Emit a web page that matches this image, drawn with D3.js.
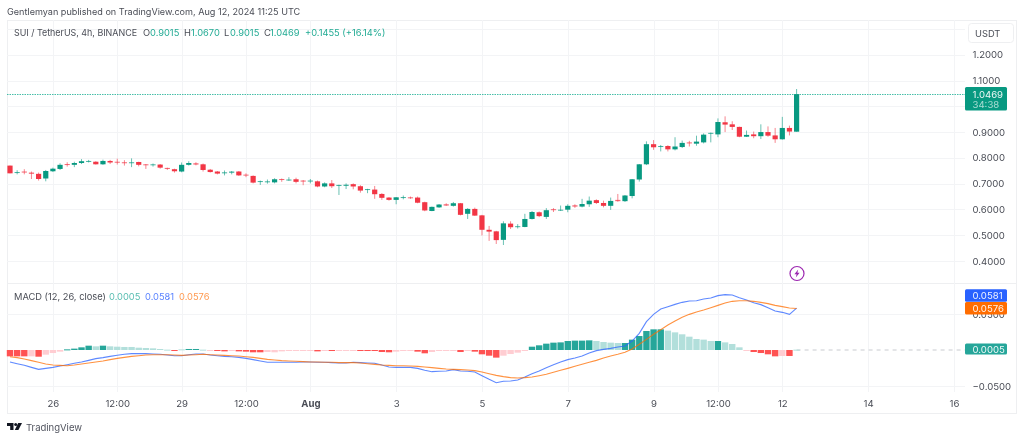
<!DOCTYPE html>
<html><head><meta charset="utf-8">
<script src="https://cdn.jsdelivr.net/npm/d3@7/dist/d3.min.js"></script>
<style>
html,body{margin:0;padding:0;background:#fff;overflow:hidden}
svg{display:block;font-family:Inter,"Liberation Sans",sans-serif;filter:blur(.35px)}
text{font-family:Inter,"Liberation Sans",sans-serif}
</style></head><body><div id="c"></div>
<script>
const opens=[.770,.743,.747,.743,.738,.720,.748,.757,.776,.773,.780,.785,.785,.775,.788,.785,.783,.780,.784,.775,.773,.774,.761,.756,.747,.773,.779,.775,.754,.747,.740,.742,.747,.735,.730,.708,.707,.705,.718,.712,.717,.712,.709,.709,.689,.701,.691,.691,.698,.690,.676,.677,.660,.646,.637,.645,.647,.646,.628,.594,.608,.620,.614,.624,.583,.602,.577,.521,.515,.482,.545,.532,.532,.563,.589,.571,.601,.597,.599,.616,.611,.620,.636,.625,.614,.637,.632,.652,.716,.775,.853,.842,.846,.833,.842,.860,.855,.860,.894,.891,.938,.930,.920,.882,.891,.884,.900,.887,.872,.916,.9015];
const highs=[.770,.752,.756,.747,.743,.753,.762,.779,.783,.785,.795,.792,.787,.793,.792,.797,.791,.798,.785,.776,.778,.776,.762,.758,.782,.787,.783,.778,.757,.749,.751,.749,.749,.740,.732,.712,.716,.721,.720,.725,.723,.714,.718,.712,.705,.714,.696,.701,.701,.694,.680,.691,.663,.648,.648,.654,.650,.650,.630,.611,.621,.624,.629,.625,.605,.607,.579,.536,.517,.554,.554,.543,.583,.594,.592,.605,.605,.615,.620,.620,.641,.650,.639,.634,.646,.660,.656,.718,.776,.864,.869,.850,.849,.880,.867,.866,.886,.895,.898,.953,.961,.942,.921,.906,.902,.930,.922,.916,.959,.925,1.0670];
const lows=[.740,.736,.736,.718,.712,.709,.745,.753,.766,.764,.776,.782,.774,.773,.776,.774,.770,.764,.767,.757,.766,.758,.753,.743,.744,.770,.771,.747,.743,.736,.732,.736,.730,.725,.701,.695,.700,.701,.707,.711,.701,.694,.701,.686,.686,.683,.656,.679,.678,.665,.663,.641,.637,.634,.620,.639,.641,.624,.593,.593,.606,.614,.611,.577,.563,.575,.499,.478,.466,.462,.524,.526,.531,.561,.570,.563,.590,.594,.589,.606,.608,.610,.621,.608,.598,.630,.629,.643,.708,.772,.831,.825,.825,.829,.838,.844,.847,.856,.860,.880,.900,.908,.880,.881,.876,.873,.882,.858,.871,.887,.9015];
const closes=[.740,.745,.743,.738,.718,.749,.758,.773,.773,.780,.787,.788,.775,.788,.782,.783,.780,.783,.773,.773,.775,.762,.757,.748,.773,.780,.774,.753,.745,.739,.744,.747,.732,.732,.704,.710,.709,.717,.714,.716,.707,.708,.712,.689,.701,.690,.695,.696,.689,.673,.679,.659,.645,.637,.647,.648,.645,.626,.596,.610,.619,.615,.624,.579,.602,.576,.521,.514,.481,.546,.531,.535,.563,.590,.574,.597,.597,.599,.614,.611,.621,.634,.625,.614,.633,.632,.654,.717,.775,.853,.841,.846,.833,.844,.858,.856,.863,.890,.897,.939,.929,.920,.882,.889,.884,.900,.886,.872,.916,.902,1.0469];
const hist=[-.0088,-.0088,-.0088,-.0088,-.0093,-.0065,-.0042,-.0023,.0009,.0019,.0037,.0060,.0051,.0060,.0051,.0046,.0042,.0042,.0032,.0028,.0023,.0014,.0005,-.0014,.0009,.0014,.0014,.0005,-.0009,-.0014,-.0019,-.0009,-.0019,-.0023,-.0032,-.0032,-.0028,-.0032,-.0019,-.0014,-.0014,-.0009,-.0005,-.0019,-.0005,-.0014,-.0005,-.0005,-.0005,-.0014,-.0014,-.0014,-.0028,-.0032,-.0023,-.0014,-.0009,-.0023,-.0046,-.0028,-.0014,-.0014,-.0005,-.0028,-.0009,-.0023,-.0060,-.0079,-.0106,-.0079,-.0056,-.0037,-.0009,.0046,.0065,.0088,.0102,.0106,.0125,.0130,.0130,.0134,.0125,.0111,.0102,.0097,.0097,.0144,.0194,.0264,.0287,.0287,.0269,.0245,.0218,.0185,.0153,.0144,.0125,.0125,.0106,.0083,.0037,-.0014,-.0028,-.0042,-.0060,-.0088,-.0083,-.0083,.0005];
const histStrong=[1,1,1,0,1,0,0,0,1,1,1,1,0,1,0,0,0,0,0,0,0,0,0,1,0,1,1,0,0,1,1,0,1,1,1,1,0,0,0,0,0,0,0,1,0,1,0,0,0,1,1,1,1,1,0,0,0,1,1,0,0,0,0,1,0,1,1,1,1,0,0,0,0,1,1,1,1,1,1,1,1,1,0,0,0,0,1,1,1,1,1,1,0,0,0,0,0,0,0,1,0,0,0,0,1,1,1,1,0,1,0];
const macd=[-.0167,-.0190,-.0213,-.0241,-.0269,-.0255,-.0241,-.0222,-.0204,-.0185,-.0167,-.0144,-.0120,-.0106,-.0088,-.0074,-.0060,-.0051,-.0051,-.0051,-.0056,-.0060,-.0069,-.0079,-.0079,-.0065,-.0056,-.0056,-.0069,-.0079,-.0088,-.0093,-.0102,-.0116,-.0134,-.0153,-.0171,-.0171,-.0171,-.0171,-.0171,-.0167,-.0167,-.0171,-.0171,-.0176,-.0181,-.0181,-.0171,-.0176,-.0181,-.0185,-.0208,-.0236,-.0241,-.0241,-.0241,-.0255,-.0282,-.0301,-.0296,-.0292,-.0273,-.0292,-.0296,-.0306,-.0357,-.0407,-.0454,-.0435,-.0431,-.0417,-.0375,-.0329,-.0292,-.0245,-.0204,-.0167,-.0134,-.0111,-.0083,-.0042,-.0009,.0009,.0023,.0042,.0056,.0125,.0232,.0394,.0495,.0569,.0602,.0634,.0662,.0681,.0685,.0708,.0722,.0755,.0769,.0764,.0727,.0695,.0657,.0630,.0588,.0542,.0523,.0495,.0581];
const signal=[-.0093,-.0106,-.0125,-.0148,-.0171,-.0194,-.0208,-.0213,-.0218,-.0208,-.0194,-.0181,-.0167,-.0153,-.0134,-.0116,-.0102,-.0088,-.0079,-.0069,-.0065,-.0065,-.0065,-.0069,-.0074,-.0069,-.0065,-.0060,-.0065,-.0069,-.0074,-.0079,-.0083,-.0093,-.0102,-.0116,-.0130,-.0139,-.0148,-.0153,-.0157,-.0162,-.0167,-.0167,-.0171,-.0171,-.0176,-.0176,-.0176,-.0181,-.0190,-.0199,-.0208,-.0213,-.0218,-.0218,-.0222,-.0227,-.0236,-.0245,-.0255,-.0264,-.0269,-.0273,-.0278,-.0287,-.0306,-.0329,-.0352,-.0370,-.0384,-.0389,-.0384,-.0375,-.0357,-.0338,-.0310,-.0282,-.0255,-.0227,-.0199,-.0171,-.0144,-.0111,-.0083,-.0060,-.0032,.0014,.0079,.0148,.0218,.0282,.0347,.0403,.0454,.0495,.0528,.0556,.0588,.0620,.0653,.0676,.0685,.0685,.0676,.0662,.0644,.0620,.0602,.0583,.0576];
const priceTicks=[1.3,1.2,1.1,1.0,.9,.8,.7,.6,.5,.4];
const macdTicks=[.05,-.05];
const timeTickIdx=[6,15,24,33,42,54,66,78,90,99,108,120,132];
const timeTickLabels=["26","12:00","29","12:00","Aug","3","5","7","9","12:00","12","14","16"];
const lastPrice=1.0469, lastHist=.0005, lastMacd=.0581, lastSignal=.0576;

const W=1024,H=440,UP="#089981",DN="#f23645",GRID="#f3f4f6",TXT="#4a4d56",TEAL="#26a69a";
const FS=9.6;
const svg=d3.select("#c").append("svg").attr("width",W).attr("height",H);
const L=7,R=1016,T=20,B=413,PR=965,PB=392;
const x=d3.scaleLinear().domain([0,110]).range([10,796.6]);
const y=d3.scaleLinear().domain([1.1,.4]).range([80.5,261]);
const ym=d3.scaleLinear().domain([.05,-.05]).range([314,386]);

// frame
svg.append("rect").attr("x",L+.5).attr("y",T+.5).attr("width",R-L).attr("height",B-T).attr("fill","none").attr("stroke","#eeeff1");
svg.append("line").attr("x1",L).attr("x2",R).attr("y1",283.5).attr("y2",283.5).attr("stroke","#eeeff1");

// time axis + vertical grid
const tAxis=d3.axisBottom(x).tickValues(timeTickIdx).tickFormat((d,i)=>timeTickLabels[i]).tickSize(0).tickPadding(0);
const tg=svg.append("g").attr("transform",`translate(0,407)`).call(tAxis);
tg.select(".domain").remove();
tg.selectAll("text").attr("y",0).attr("font-size",FS).attr("fill",TXT).attr("font-weight",(d,i)=>timeTickLabels[i]==="Aug"?700:400).attr("dy",0);
svg.append("g").selectAll("line").data(timeTickIdx).join("line")
 .attr("x1",d=>Math.round(x(d))+.5).attr("x2",d=>Math.round(x(d))+.5).attr("y1",T).attr("y2",PB).attr("stroke",GRID);

// price axis + grid
svg.append("g").selectAll("line").data(priceTicks).join("line")
 .attr("x1",L).attr("x2",PR).attr("y1",d=>Math.round(y(d))+.5).attr("y2",d=>Math.round(y(d))+.5).attr("stroke",GRID);
svg.append("g").selectAll("line").data(macdTicks).join("line")
 .attr("x1",L).attr("x2",PR).attr("y1",d=>Math.round(ym(d))+.5).attr("y2",d=>Math.round(ym(d))+.5).attr("stroke",GRID);
const pg=svg.append("g").attr("transform","translate(972.5,0)").call(d3.axisRight(y).tickValues(priceTicks.filter(d=>d<1.25&&d!==1.0)).tickFormat(d3.format(".4f")).tickSize(0).tickPadding(0));
pg.select(".domain").remove();
pg.selectAll("text").attr("font-size",FS).attr("fill",TXT);
const mg=svg.append("g").attr("transform","translate(972.5,0)").call(d3.axisRight(ym).tickValues(macdTicks).tickFormat(d3.format(".4f")).tickSize(0).tickPadding(0));
mg.select(".domain").remove();
mg.selectAll("text").attr("font-size",FS).attr("fill",TXT);

// last price line
const lpY=Math.round(y(lastPrice))+.5;
svg.append("line").attr("x1",L).attr("x2",PR).attr("y1",lpY).attr("y2",lpY).attr("stroke","#0aa88d").attr("stroke-width",1).attr("stroke-dasharray","1.5 1").attr("opacity",.75);

// candles
const idx=d3.range(opens.length);
const cg=svg.append("g");
cg.selectAll(".w").data(idx).join("line").attr("class","w")
 .attr("x1",i=>x(i)).attr("x2",i=>x(i)).attr("y1",i=>y(highs[i])).attr("y2",i=>y(lows[i]))
 .attr("stroke",i=>closes[i]>=opens[i]?UP:DN).attr("stroke-width",1).attr("opacity",.6);
cg.selectAll(".b").data(idx).join("rect").attr("class","b")
 .attr("x",i=>x(i)-2.6).attr("width",5.2)
 .attr("y",i=>y(Math.max(opens[i],closes[i])))
 .attr("height",i=>Math.max(1,Math.abs(y(opens[i])-y(closes[i]))))
 .attr("fill",i=>closes[i]>=opens[i]?UP:DN)
 .attr("opacity",i=>Math.abs(y(opens[i])-y(closes[i]))<1.5?.75:1);

// MACD histogram
const zeroY=ym(0);
svg.append("line").attr("x1",x(110)).attr("x2",PR).attr("y1",zeroY).attr("y2",zeroY).attr("stroke","#c9cbd0").attr("stroke-dasharray","4 4");
svg.append("g").selectAll("rect").data(idx).join("rect")
 .attr("x",i=>x(i)-3.2).attr("width",6.4)
 .attr("y",i=>hist[i]>=0?ym(hist[i]):zeroY)
 .attr("height",i=>Math.max(1,Math.abs(ym(hist[i])-zeroY)))
 .attr("fill",i=>hist[i]>=0?(histStrong[i]?TEAL:"#b2dfdb"):(histStrong[i]?"#ff5252":"#ffcdd2"));
const ln=d3.line().x((d,i)=>x(i)).y(d=>ym(d));
svg.append("path").attr("d",ln(macd)).attr("fill","none").attr("stroke","#2962ff").attr("stroke-opacity",.75).attr("stroke-width",1.1);
svg.append("path").attr("d",ln(signal)).attr("fill","none").attr("stroke","#ff6d00").attr("stroke-opacity",.75).attr("stroke-width",1.1);

// header
svg.append("text").attr("x",7).attr("y",14.5).attr("font-size",9.1).attr("fill",TXT).text("Gentlemyan published on TradingView.com, Aug 12, 2024 11:25 UTC");
const leg=(px,py,s,c)=>svg.append("text").attr("x",px).attr("y",py).attr("font-size",9.3).attr("fill",c).text(s);
const G="#22ab94";
leg(14,35.5,"SUI / TetherUS, 4h, BINANCE",TXT).attr("textLength",123).attr("lengthAdjust","spacingAndGlyphs");
const fmt=d3.format(".4f"),n=opens.length-1;
leg(143,35.5,"O",TXT);leg(150,35.5,fmt(opens[n]),G);
leg(184,35.5,"H",TXT);leg(191,35.5,fmt(highs[n]),G);
leg(224,35.5,"L",TXT);leg(230,35.5,fmt(lows[n]),G);
leg(264,35.5,"C",TXT);leg(270,35.5,fmt(closes[n]),G);
leg(305,35.5,"+0.1455 (+16.14%)",G);
leg(14,299.5,"MACD (12, 26, close)",TXT);
leg(109,299.5,fmt(lastHist),"#57bdb1");
leg(145,299.5,fmt(lastMacd),"#5b83ff");
leg(179,299.5,fmt(lastSignal),"#ff9a50");

// USDT box
svg.append("rect").attr("x",968.5).attr("y",23.5).attr("width",45).attr("height",19).attr("rx",3).attr("fill","#fff").attr("stroke","#eeeff1");
svg.append("text").attr("x",975).attr("y",36.5).attr("font-size",9.3).attr("fill",TXT).text("USDT");

// right labels
const tag=(cy,h,fill,s)=>{
 svg.append("rect").attr("x",965).attr("y",cy-h/2).attr("width",42).attr("height",h).attr("rx",1.5).attr("fill",fill);
 svg.append("text").attr("x",972.5).attr("y",cy+3.5).attr("font-size",FS).attr("fill","#fff").attr("fill-opacity",.92).text(s);
};
svg.append("rect").attr("x",965).attr("y",87).attr("width",42).attr("height",23.5).attr("rx",1.5).attr("fill",UP);
svg.append("text").attr("x",972.5).attr("y",97.5).attr("font-size",FS).attr("fill","#fff").attr("fill-opacity",.92).text(fmt(lastPrice));
svg.append("text").attr("x",972.5).attr("y",108).attr("font-size",FS).attr("fill","#fff").attr("fill-opacity",.65).text("34:38");
tag(295.5,12.6,"#2962ff",fmt(lastMacd));
tag(308.3,12.6,"#ff6d00",fmt(lastSignal));
tag(349,11.2,TEAL,fmt(lastHist));

// lightning icon
const ig=svg.append("g").attr("transform","translate(797,273.5)");
ig.append("circle").attr("r",7).attr("fill","#fff").attr("stroke","#9c27b0").attr("stroke-width",1.2);
ig.append("path").attr("d","M1.2,-4 L-2.6,0.8 L-0.4,0.8 L-1.2,4 L2.6,-0.8 L0.4,-0.8 Z").attr("fill","#9c27b0");

// logo
const lg=svg.append("g").attr("transform","translate(7,423)").attr("fill","#131722");
lg.append("path").attr("d","M0,0 H6.5 V7 H3.2 V3 H0 Z");
lg.append("circle").attr("cx",8.7).attr("cy",1.5).attr("r",1.5);
lg.append("path").attr("d","M11.2,0 H15 L11.4,7 H7.8 Z");
svg.append("text").attr("x",26).attr("y",430.5).attr("font-size",9.5).attr("fill","#50535e").text("TradingView");
</script></body></html>
